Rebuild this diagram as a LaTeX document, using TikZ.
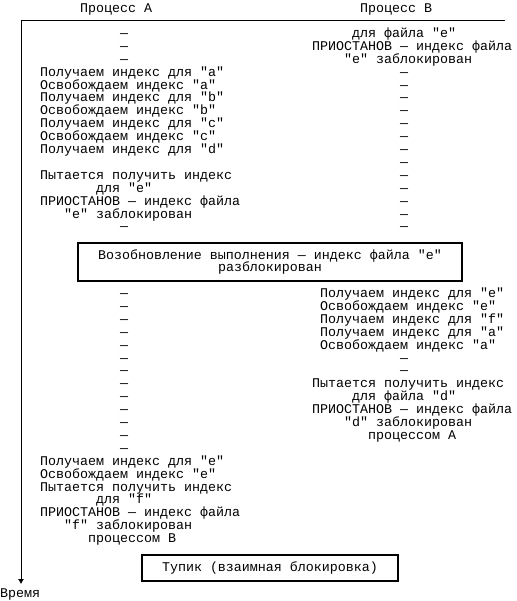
\documentclass[tikz,border=0pt]{standalone}
\usepackage{fontspec}
\newfontfamily\cellfont{Liberation Mono}
\usetikzlibrary{arrows.meta}

\tikzset{
  txt/.style={anchor=base west, inner sep=0pt, font=\cellfont\fontsize{13.33pt}{12.9pt}\selectfont},
  stage/.style={draw, line width=1.3pt, align=center, inner sep=0pt, font=\cellfont\fontsize{13.33pt}{12.9pt}\selectfont},
  axis/.style={line width=0.8pt, -{Latex[length=5pt,width=6pt]}, shorten >=4pt}
}

\begin{document}
\begin{tikzpicture}[x=1pt,y=1pt]
\useasboundingbox (0,0) rectangle (516,-601);

\node[txt] (procA) at (80,-12.5) {Процесс А};
\node[txt] (procB) at (360,-12.5) {Процесс В};
\node[txt] (time) at (0,-597) {Время};
\coordinate (corner) at (21,-20);
\coordinate (hend) at (505,-20);
\draw[axis] (hend) -- (corner) -- (corner |- time.north);

%============ before resume
\begin{scope}[yshift=-37.5pt, x=8pt, y=-12.9pt]
\foreach \r in {0,1,2,15} \node[txt] (la\r) at (15,\r) {—};
\foreach \r in {3,...,15} \node[txt] (ra\r) at (50,\r) {—};
\node[txt] (ra0) at (44,0) {для файла "e"};
\node[txt] (ra1) at (39,1) {ПРИОСТАНОВ — индекс файла};
\node[txt] (ra2) at (43,2) {"e" заблокирован};
\node[txt] (la3) at (5,3) {Получаем индекс для "a"};
\node[txt] (la4) at (5,4) {Освобождаем индекс "a"};
\node[txt] (la5) at (5,5) {Получаем индекс для "b"};
\node[txt] (la6) at (5,6) {Освобождаем индекс "b"};
\node[txt] (la7) at (5,7) {Получаем индекс для "c"};
\node[txt] (la8) at (5,8) {Освобождаем индекс "c"};
\node[txt] (la9) at (5,9) {Получаем индекс для "d"};
\node[txt] (la11) at (5,11) {Пытается получить индекс};
\node[txt] (la12) at (12,12) {для "e"};
\node[txt] (la13) at (5,13) {ПРИОСТАНОВ — индекс файла};
\node[txt] (la14) at (8,14) {"e" заблокирован};
\end{scope}

\node[stage, minimum width=384pt, minimum height=38pt] (resume) at (270,-262)
  {Возобновление выполнения — индекс файла "e"\\разблокирован};

%============ after resume
\begin{scope}[yshift=-297.5pt, x=8pt, y=-12.9pt]
\foreach \r in {0,...,12} \node[txt] (lb\r) at (15,\r) {—};
\foreach \r in {5,6} \node[txt] (rb\r) at (50,\r) {—};
\node[txt] (rb0) at (40,0) {Получаем индекс для "e"};
\node[txt] (rb1) at (40,1) {Освобождаем индекс "e"};
\node[txt] (rb2) at (40,2) {Получаем индекс для "f"};
\node[txt] (rb3) at (40,3) {Получаем индекс для "a"};
\node[txt] (rb4) at (40,4) {Освобождаем индекс "a"};
\node[txt] (rb7) at (39,7) {Пытается получить индекс};
\node[txt] (rb8) at (44,8) {для файла "d"};
\node[txt] (rb9) at (39,9) {ПРИОСТАНОВ — индекс файла};
\node[txt] (rb10) at (43,10) {"d" заблокирован};
\node[txt] (rb11) at (46,11) {процессом А};
\node[txt] (lb13) at (5,13) {Получаем индекс для "e"};
\node[txt] (lb14) at (5,14) {Освобождаем индекс "e"};
\node[txt] (lb15) at (5,15) {Пытается получить индекс};
\node[txt] (lb16) at (12,16) {для "f"};
\node[txt] (lb17) at (5,17) {ПРИОСТАНОВ — индекс файла};
\node[txt] (lb18) at (8,18) {"f" заблокирован};
\node[txt] (lb19) at (11,19) {процессом В};
\end{scope}

\node[stage, minimum width=256pt, minimum height=26pt] (deadlock) at (270,-568)
  {Тупик (взаимная блокировка)};

\end{tikzpicture}
\end{document}
